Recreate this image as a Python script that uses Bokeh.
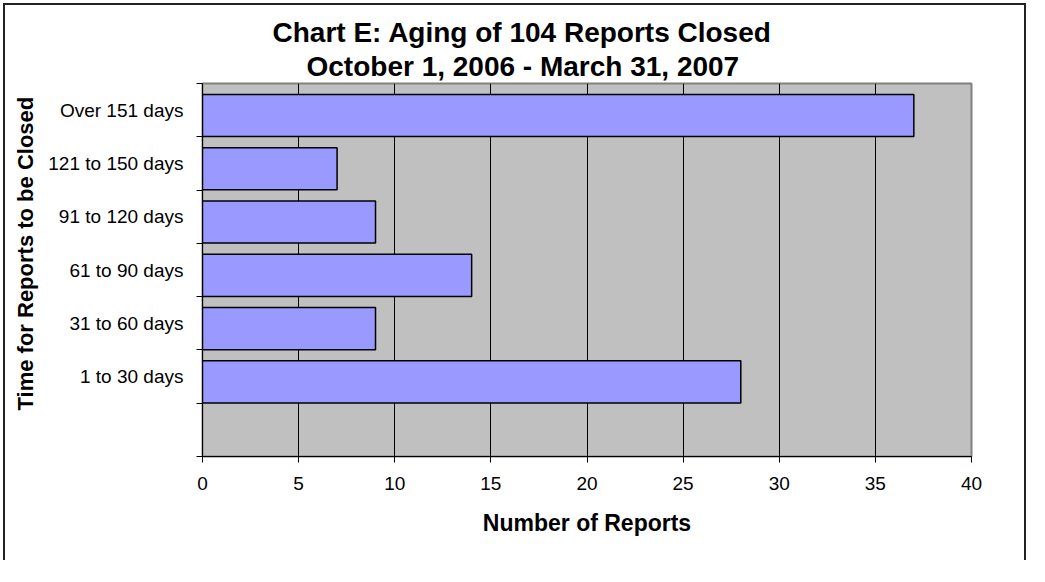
from bokeh.plotting import figure
from bokeh.models import Range1d, FixedTicker, Title, ColumnDataSource
from bokeh.embed import file_html
from bokeh.resources import INLINE

# ---- data ----
categories = ["", "1 to 30 days", "31 to 60 days", "61 to 90 days",
              "91 to 120 days", "121 to 150 days", "Over 151 days"]
values = [0, 28, 9, 14, 9, 7, 37]
x_ticks = [0, 5, 10, 15, 20, 25, 30, 35, 40]
title_line1 = "Chart E: Aging of 104 Reports Closed"
title_line2 = "October 1, 2006 - March 31, 2007"
x_title = "Number of Reports"
y_title = "Time for Reports to be Closed"

FONT = "Liberation Sans"

# frame geometry in canvas px
FL, FR, FT, FB = 202, 971, 83, 456
W, H = 1029, 566
XMAX = 40
NCAT = len(categories)

p = figure(width=W, height=H, output_backend="svg", toolbar_location=None,
           x_range=Range1d(0, XMAX), y_range=Range1d(0, NCAT),
           min_border_left=FL, min_border_right=W - FR,
           min_border_top=FT, min_border_bottom=H - FB,
           title=None)
p.background_fill_color = "#C0C0C0"
p.border_fill_alpha = 0
p.outline_line_color = "#808080"
p.outline_line_width = 2
# outer chart frame drawn with CSS (top/left/right; bottom runs off the picture)
p.styles = {"box-shadow": "inset 0 -6px 0 0 white, inset 0 0 0 3px white, "
                          "inset 0 0 0 5px #222222",
            "background-color": "white"}

centers = [i + 0.5 for i in range(NCAT)]
bar_y = [c - 0.1 for c in centers]
src = ColumnDataSource(dict(y=bar_y[1:], v=values[1:]))
p.hbar(y="y", right="v", left=0, height=0.79, source=src,
       fill_color="#9999FF", line_color="black", line_width=1.5)

# x axis
xa = p.xaxis[0]
xa.ticker = FixedTicker(ticks=x_ticks)
xa.major_tick_out = 6
xa.major_tick_in = 0
xa.minor_tick_out = 0
xa.minor_tick_in = 0
xa.axis_line_color = "black"
xa.major_tick_line_color = "black"
xa.major_label_text_font = FONT
xa.major_label_text_font_size = "19px"
xa.major_label_text_color = "black"
xa.major_label_standoff = 14
xa.axis_label = x_title
xa.axis_label_text_font = FONT
xa.axis_label_text_font_size = "23px"
xa.axis_label_text_font_style = "bold"
xa.axis_label_text_color = "black"
xa.axis_label_standoff = 17

# y axis
ya = p.yaxis[0]
ya.ticker = FixedTicker(ticks=centers, minor_ticks=list(range(NCAT + 1)))
ya.major_label_overrides = {c: lab for c, lab in zip(centers, categories)}
ya.major_tick_out = 0
ya.major_tick_in = 0
ya.minor_tick_out = 6
ya.minor_tick_in = 0
ya.minor_tick_line_color = "black"
ya.axis_line_color = "black"
ya.major_label_text_font = FONT
ya.major_label_text_font_size = "19px"
ya.major_label_text_color = "black"
ya.major_label_standoff = 13

p.xgrid.ticker = FixedTicker(ticks=x_ticks)
p.xgrid.grid_line_color = "black"
p.xgrid.grid_line_width = 1
p.ygrid.visible = False

def ttl(text, size, align, offset, standoff=0):
    return Title(text=text, text_font=FONT, text_font_size=size,
                 text_font_style="bold", text_color="black",
                 align=align, offset=offset, standoff=standoff)

# title lines centred on the whole chart (x ~ 522)
p.add_layout(ttl(title_line2, "28px", "left", 104, 3), "above")
p.add_layout(ttl(title_line1, "28px", "left", 70, 0), "above")
p.add_layout(ttl(y_title, "22px", "left", 46, 16), "left")

open("out.html", "w").write(file_html(p, INLINE))
